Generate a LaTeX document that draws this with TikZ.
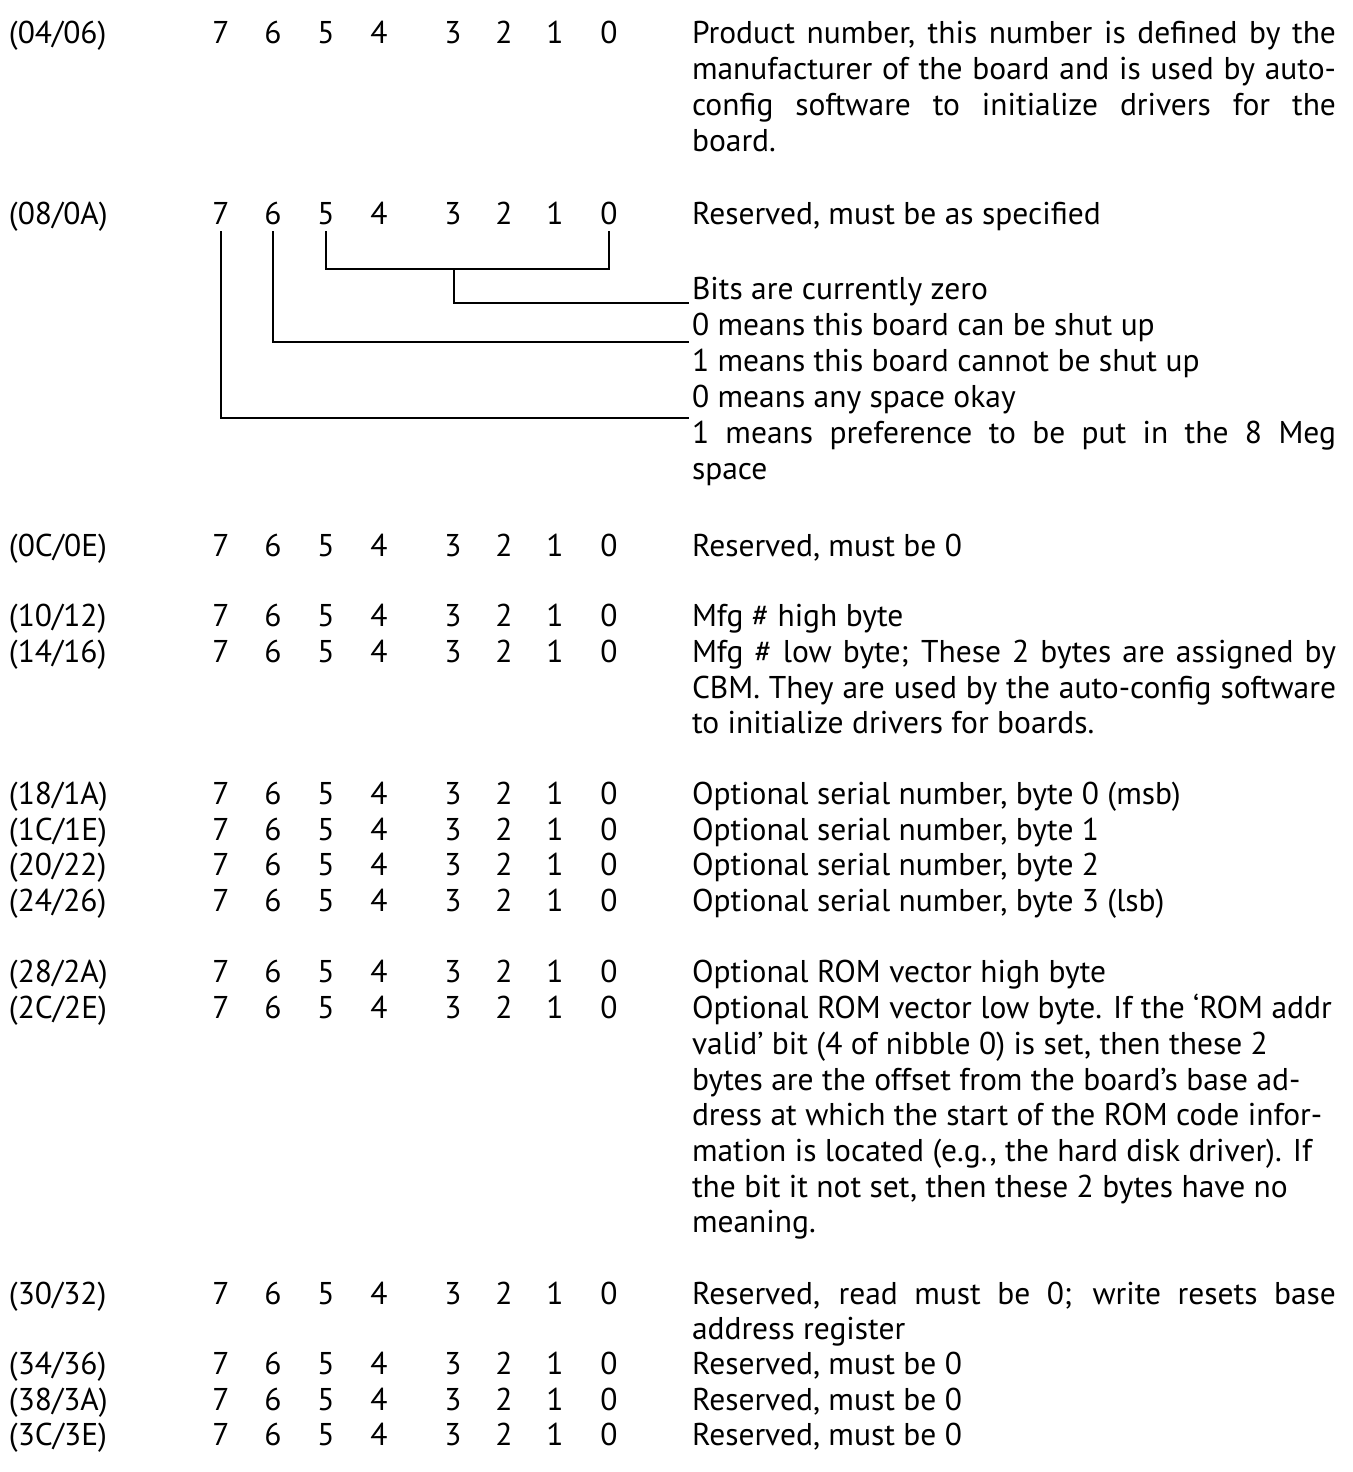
\documentclass[tikz,border=0pt]{standalone}
\usepackage{fontspec}
\setmainfont{PT Sans}
\newcommand\just[1]{\makebox[644pt][s]{#1}}
\newcommand\bitrow[2]{%
  \foreach \b/\x in {7/221,6/273,5/326,4/379,3/453,2/504,1/555,0/609}
    \node[bit] (#1b\b) at (\x,#2) {\b};}
\begin{document}
\begin{tikzpicture}[x=1pt,y=-1pt,
  every node/.style={inner sep=0pt, outer sep=0pt, font=\fontsize{31.5}{36}\selectfont},
  addr/.style={anchor=base west},
  bit/.style={anchor=base},
  desc/.style={anchor=base west},
  conn/.style={line width=1.8pt, line cap=butt, line join=miter}]
\useasboundingbox[fill=white] (0,0) rectangle (1352,1472);

% address labels and bit numbers
\foreach \n/\y/\t in {r1/44/{(04/06)}, r2/224/{(08/0A)}, r3/556/{(0C/0E)},
  r4/626/{(10/12)}, r5/662/{(14/16)}, r6/804/{(18/1A)}, r7/840/{(1C/1E)},
  r8/875/{(20/22)}, r9/911/{(24/26)}, r10/982/{(28/2A)}, r11/1018/{(2C/2E)},
  r12/1304/{(30/32)}, r13/1374/{(34/36)}, r14/1410/{(38/3A)}, r15/1445/{(3C/3E)}}
{
  \node[addr] (\n a) at (9,\y) {\t};
  \bitrow{\n}{\y}
}

% descriptions
\node[desc] (d1a) at (692,44)  {\just{Product number, this number is defined by the}};
\node[desc] (d1b) at (692,80)  {\just{manufacturer of the board and is used by auto-}};
\node[desc] (d1c) at (692,115) {\just{config software to initialize drivers for the}};
\node[desc] (d1d) at (692,151) {board.};

\node[desc] (d2a) at (692,224) {Reserved, must be as specified};
\node[desc] (d2b) at (692,299) {Bits are currently zero};
\node[desc] (d2c) at (692,335) {0 means this board can be shut up};
\node[desc] (d2d) at (692,371) {1 means this board cannot be shut up};
\node[desc] (d2e) at (692,407) {0 means any space okay};
\node[desc] (d2f) at (692,443) {\just{1 means preference to be put in the 8 Meg}};
\node[desc] (d2g) at (692,479) {space};

\node[desc] (d3a) at (692,556) {Reserved, must be 0};

\node[desc] (d4a) at (692,626) {Mfg \# high byte};
\node[desc] (d5a) at (692,662) {\just{Mfg \# low byte; These 2 bytes are assigned by}};
\node[desc] (d5b) at (692,698) {\just{CBM. They are used by the auto-config software}};
\node[desc] (d5c) at (692,733) {to initialize drivers for boards.};

\node[desc] (d6a) at (692,804) {Optional serial number, byte 0 (msb)};
\node[desc] (d7a) at (692,840) {Optional serial number, byte 1};
\node[desc] (d8a) at (692,875) {Optional serial number, byte 2};
\node[desc] (d9a) at (692,911) {Optional serial number, byte 3 (lsb)};

\node[desc] (d10a) at (692,982)  {Optional ROM vector high byte};
\node[desc] (d11a) at (692,1018) {Optional ROM vector low byte. If the ‘ROM addr};
\node[desc] (d11b) at (692,1054) {valid’ bit (4 of nibble 0) is set, then these 2};
\node[desc] (d11c) at (692,1090) {bytes are the offset from the board’s base ad-};
\node[desc] (d11d) at (692,1125) {dress at which the start of the ROM code infor-};
\node[desc] (d11e) at (692,1161) {mation is located (e.g., the hard disk driver). If};
\node[desc] (d11f) at (692,1197) {the bit it not set, then these 2 bytes have no};
\node[desc] (d11g) at (692,1232) {meaning.};

\node[desc] (d12a) at (692,1304) {\just{Reserved, read must be 0; write resets base}};
\node[desc] (d12b) at (692,1339) {address register};
\node[desc] (d13a) at (692,1374) {Reserved, must be 0};
\node[desc] (d14a) at (692,1410) {Reserved, must be 0};
\node[desc] (d15a) at (692,1445) {Reserved, must be 0};

% bracket connectors for (08/0A)
\coordinate (j50) at (454,269);
\draw[conn] ([yshift=-7pt]r2b5.base) |- (j50) -| ([yshift=-7pt]r2b0.base);
\draw[conn] (j50) |- ([xshift=-3pt,yshift=-4pt]d2b.base west);
\draw[conn] ([yshift=-7pt]r2b6.base) |- ([xshift=-3pt,yshift=-7pt]d2c.base west);
\draw[conn] ([yshift=-7pt]r2b7.base) |- ([xshift=-3pt,yshift=-11pt]d2e.base west);
\end{tikzpicture}
\end{document}
